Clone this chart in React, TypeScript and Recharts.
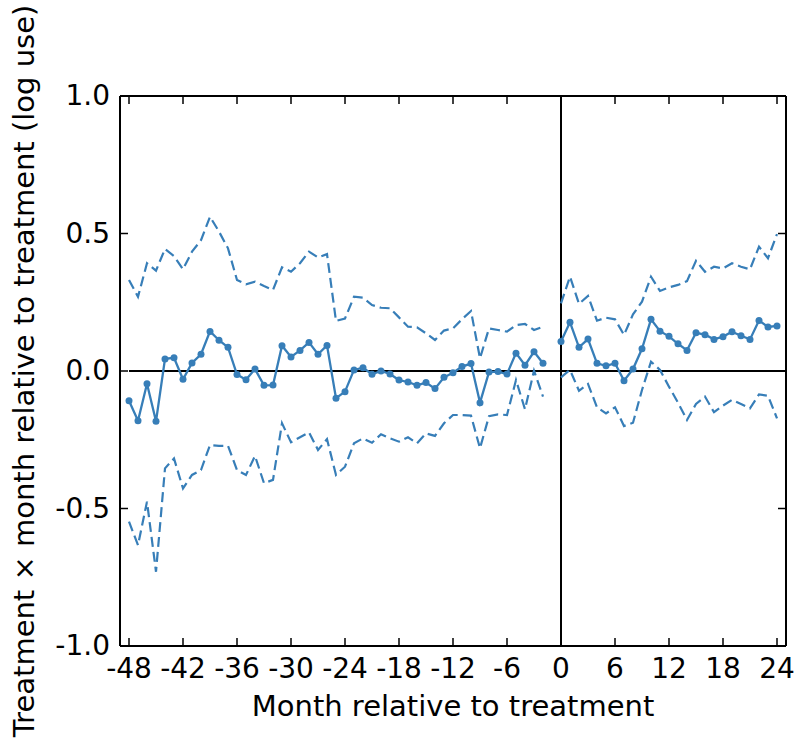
import React from 'react';
import { LineChart, Line, XAxis, YAxis, ReferenceLine, Label } from 'recharts';

// months relative to treatment; -1 is the omitted reference month
const months = [
  -48, -47, -46, -45, -44, -43, -42, -41, -40, -39, -38, -37, -36, -35, -34, -33,
  -32, -31, -30, -29, -28, -27, -26, -25, -24, -23, -22, -21, -20, -19, -18, -17,
  -16, -15, -14, -13, -12, -11, -10, -9, -8, -7, -6, -5, -4, -3, -2, -1,
  0, 1, 2, 3, 4, 5, 6, 7, 8, 9, 10, 11, 12, 13, 14, 15, 16, 17, 18, 19, 20, 21, 22, 23, 24,
];

const coef = [
  -0.108, -0.181, -0.046, -0.183, 0.044, 0.048, -0.030, 0.029, 0.061, 0.144, 0.112, 0.086, -0.013, -0.032, 0.007, -0.052,
  -0.051, 0.092, 0.051, 0.075, 0.104, 0.061, 0.093, -0.099, -0.075, 0.004, 0.012, -0.012, 0.000, -0.011, -0.033, -0.040,
  -0.052, -0.042, -0.064, -0.023, -0.006, 0.016, 0.027, -0.115, -0.004, -0.002, -0.011, 0.065, 0.021, 0.070, 0.028, null,
  0.107, 0.177, 0.086, 0.116, 0.028, 0.019, 0.028, -0.035, 0.007, 0.081, 0.188, 0.145, 0.126, 0.099, 0.075, 0.139, 0.132, 0.115, 0.125, 0.143, 0.128, 0.115, 0.184, 0.160, 0.164,
];

const upper = [
  0.331, 0.270, 0.392, 0.365, 0.444, 0.418, 0.370, 0.434, 0.476, 0.561, 0.507, 0.446, 0.331, 0.315, 0.325, 0.309,
  0.295, 0.377, 0.361, 0.392, 0.434, 0.413, 0.425, 0.182, 0.191, 0.270, 0.267, 0.240, 0.230, 0.228, 0.195, 0.161,
  0.159, 0.137, 0.113, 0.147, 0.155, 0.188, 0.218, 0.046, 0.155, 0.149, 0.143, 0.167, 0.171, 0.149, 0.161, null,
  0.246, 0.343, 0.244, 0.273, 0.183, 0.194, 0.188, 0.131, 0.206, 0.252, 0.343, 0.291, 0.304, 0.313, 0.327, 0.401, 0.361, 0.379, 0.373, 0.392, 0.379, 0.370, 0.452, 0.410, 0.498,
];

const lower = [
  -0.548, -0.633, -0.475, -0.730, -0.354, -0.318, -0.427, -0.378, -0.360, -0.269, -0.272, -0.272, -0.360, -0.378, -0.309, -0.408,
  -0.396, -0.190, -0.259, -0.241, -0.223, -0.287, -0.248, -0.378, -0.348, -0.263, -0.245, -0.261, -0.230, -0.245, -0.257, -0.241,
  -0.263, -0.227, -0.236, -0.190, -0.160, -0.160, -0.162, -0.281, -0.164, -0.158, -0.160, -0.033, -0.139, 0.001, -0.093, null,
  -0.023, 0.004, -0.072, -0.047, -0.132, -0.154, -0.132, -0.200, -0.188, -0.069, 0.034, 0.004, -0.057, -0.115, -0.178, -0.120, -0.093, -0.150, -0.126, -0.105, -0.120, -0.136, -0.085, -0.090, -0.172,
];

const xTicks = [-48, -42, -36, -30, -24, -18, -12, -6, 0, 6, 12, 18, 24];
const yTicks = [-1, -0.5, 0, 0.5, 1];

const BLUE = '#377eb8';
const FONT = 'DejaVu Sans';

// plot box (matches the chart margins below)
const PLOT_W = 666;
const PLOT_H = 550;
const TICK = 8;

const data = months.map((m, i) => ({ month: m, coef: coef[i], upper: upper[i], lower: lower[i] }));

// ticks point inward on all four sides, matplotlib classic style
const XTick = (props: any) => {
  const { x, y, payload } = props;
  return (
    <g>
      <line x1={x} y1={y} x2={x} y2={y - TICK} stroke="#000" strokeWidth={1.5} />
      <line x1={x} y1={y - PLOT_H} x2={x} y2={y - PLOT_H + TICK} stroke="#000" strokeWidth={1.5} />
      <text x={x} y={y + 32} textAnchor="middle" fontSize={28} fontFamily={FONT} fill="#000">
        {payload.value}
      </text>
    </g>
  );
};

const YTick = (props: any) => {
  const { x, y, payload } = props;
  return (
    <g>
      <line x1={x} y1={y} x2={x + TICK} y2={y} stroke="#000" strokeWidth={1.5} />
      <line x1={x + PLOT_W} y1={y} x2={x + PLOT_W - TICK} y2={y} stroke="#000" strokeWidth={1.5} />
      <text x={x - 10} y={y + 9} textAnchor="end" fontSize={28} fontFamily={FONT} fill="#000">
        {payload.value.toFixed(1)}
      </text>
    </g>
  );
};

const XLabel = (props: any) => {
  const { x, y, width } = props.viewBox;
  return (
    <text x={x + width / 2} y={y + 70} textAnchor="middle" fontSize={29} fontFamily={FONT} fill="#000">
      Month relative to treatment
    </text>
  );
};

const YLabel = (props: any) => {
  const { x, y, height } = props.viewBox;
  const cx = x + 34;
  const cy = y + height / 2;
  return (
    <text x={cx} y={cy} transform={`rotate(-90, ${cx}, ${cy})`} textAnchor="middle" fontSize={29} fontFamily={FONT} fill="#000">
      Treatment × month relative to treatment (log use)
    </text>
  );
};

export default function App() {
  return (
    <div style={{ position: 'absolute', left: 0, top: 0, background: '#fff' }}>
      <LineChart width={798} height={738} data={data} margin={{ top: 96, right: 12, left: 0, bottom: 0 }}>
        <XAxis
          dataKey="month"
          type="number"
          domain={[-49, 25]}
          ticks={xTicks}
          interval={0}
          height={92}
          tickSize={0}
          tickMargin={0}
          axisLine={{ stroke: '#000', strokeWidth: 2 }}
          tickLine={false}
          tick={<XTick />}
        >
          <Label content={<XLabel />} />
        </XAxis>
        <YAxis
          type="number"
          domain={[-1, 1]}
          ticks={yTicks}
          interval={0}
          width={120}
          tickSize={0}
          tickMargin={0}
          axisLine={{ stroke: '#000', strokeWidth: 2 }}
          tickLine={false}
          tick={<YTick />}
        >
          <Label content={<YLabel />} />
        </YAxis>
        {/* top and right edges of the frame */}
        <ReferenceLine y={1} stroke="#000" strokeWidth={2} />
        <ReferenceLine x={25} stroke="#000" strokeWidth={2} />
        <ReferenceLine segment={[{ x: -48, y: 0 }, { x: 25, y: 0 }]} stroke="#000" strokeWidth={2} />
        <ReferenceLine x={0} stroke="#000" strokeWidth={2} />
        <Line dataKey="upper" stroke={BLUE} strokeWidth={2.2} strokeDasharray="10 5" dot={false} activeDot={false} isAnimationActive={false} />
        <Line dataKey="lower" stroke={BLUE} strokeWidth={2.2} strokeDasharray="10 5" dot={false} activeDot={false} isAnimationActive={false} />
        <Line
          dataKey="coef"
          stroke={BLUE}
          strokeWidth={2.3}
          dot={{ r: 3.5, fill: BLUE, stroke: BLUE, strokeWidth: 0 }}
          activeDot={false}
          isAnimationActive={false}
        />
      </LineChart>
    </div>
  );
}
